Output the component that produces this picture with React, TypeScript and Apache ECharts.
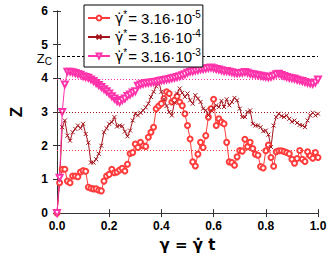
import React, { useEffect, useRef } from "react";
import * as echarts from "echarts";

// Z(γ) for three shear rates, sampled every Δγ = 0.01
const zRate5 = [0, 0.9, 1.3, 1.3, 0.95, 0.9, 1.1, 1.1, 1.08, 1.22, 1.26, 1.24, 0.77, 0.74, 0.72, 0.72, 0.68, 0.66, 0.95, 1.1,
  1.15, 1.3, 1.2, 1.22, 1.28, 1.33, 1.25, 1.45, 1.77, 1.8, 2.05, 1.95, 2.1, 2.0, 1.98, 2.25, 2.4, 2.55, 3.1, 3.18,
  3.25, 3.4, 3.6, 3.55, 3.3, 3.35, 3.47, 3.3, 3.19, 2.95, 2.6, 2.2, 1.52, 1.4, 1.75, 2.1, 1.95, 2.3, 2.85, 3.1,
  3.38, 2.6, 2.8, 2.7, 2.65, 2.1, 1.52, 1.5, 1.42, 1.67, 1.86, 1.84, 2.19, 1.97, 2.1, 1.92, 1.75, 1.72, 1.38, 1.34,
  1.85, 2.02, 1.65, 1.39, 1.82, 1.85, 1.85, 1.83, 1.8, 1.76, 1.6, 1.48, 1.62, 1.86, 1.6, 1.53, 1.82, 1.7, 1.63, 1.8, 1.65];
const zRate4 = [0, 1.0, 2.55, 2.75, 2.3, 2.15, 2.4, 2.5, 2.6, 2.52, 2.65, 2.35, 2.09, 1.5, 1.5, 1.6, 1.76, 2.0, 2.4, 2.52,
  2.65, 2.7, 2.85, 2.57, 2.6, 2.58, 2.42, 2.28, 2.45, 2.75, 2.95, 2.9, 2.98, 3.05, 3.14, 3.25, 3.45, 3.6, 3.76, 3.9,
  3.6, 3.38, 3.18, 3.0, 2.9, 3.28, 3.55, 3.7, 3.57, 3.45, 3.55, 3.35, 3.25, 3.5, 3.4, 3.3, 3.1, 3.05, 2.9, 3.05,
  3.12, 3.2, 3.15, 3.33, 3.15, 3.38, 3.2, 3.3, 3.42, 3.35, 3.1, 2.85, 2.85, 3.0, 3.05, 2.65, 2.6, 2.6, 2.55, 2.43,
  2.45, 2.33, 1.96, 2.6, 2.85, 2.95, 2.88, 2.85, 2.9, 2.8, 2.71, 2.75, 2.68, 2.62, 2.6, 2.55, 2.75, 2.9, 2.98, 2.9, 2.95];
const zRate3 = [0, 1.05, 3.0, 3.82, 4.2, 4.2, 4.18, 4.16, 4.13, 4.11, 4.06, 4.04, 4.02, 3.97, 3.92, 3.86, 3.8, 3.74, 3.68, 3.62,
  3.55, 3.47, 3.4, 3.33, 3.3, 3.36, 3.4, 3.48, 3.52, 3.58, 3.62, 3.78, 3.82, 3.84, 3.86, 3.87, 3.88, 3.89, 3.9, 3.92,
  3.94, 3.95, 3.97, 3.98, 4.0, 4.02, 4.04, 4.06, 4.09, 4.12, 4.17, 4.2, 4.21, 4.23, 4.25, 4.27, 4.28, 4.29, 4.31, 4.32,
  4.3, 4.28, 4.26, 4.24, 4.22, 4.22, 4.2, 4.18, 4.16, 4.15, 4.16, 4.17, 4.19, 4.17, 4.14, 4.12, 4.11, 4.09, 4.08, 4.06,
  4.05, 4.03, 4.05, 4.08, 4.12, 4.14, 4.1, 4.07, 4.04, 4.02, 4.0, 3.99, 3.96, 3.94, 3.92, 3.89, 3.87, 3.85, 3.84, 3.88, 3.97];

const seriesNames = ["r5", "r4", "r3"];
const exponents = ["-5", "-4", "-3"];
const plateaus = [1.87, 3.0, 3.98];
const zCritical = 4.66;
const colors = ["#ff3c3c", "#a3141c", "#ff33aa"];
const xTicks = ["0.0", "0.2", "0.4", "0.6", "0.8", "1.0"];

const FONT = "'Liberation Sans', Arial, sans-serif";
const GFONT = "'DejaVu Sans', sans-serif";

function pairs(ys: number[]) {
  return ys.map((y, i) => [i / (ys.length - 1), y]);
}

export default function App() {
  const ref = useRef<HTMLDivElement>(null);
  useEffect(() => {
    if (!ref.current) return;
    const chart = echarts.init(ref.current, null, { renderer: "svg" });
    const datas = [zRate5, zRate4, zRate3];
    const symbols = ["emptyCircle", "path://M0,0L10,10M10,0L0,10", "emptyTriangle"];
    const series: any[] = datas.map((d, k) => ({
      name: seriesNames[k],
      type: "line",
      data: pairs(d),
      symbol: symbols[k],
      symbolSize: k === 1 ? 4 : k === 2 ? 6 : 5,
      symbolRotate: k === 2 ? 180 : 0,
      showAllSymbol: true,
      lineStyle: { color: colors[k], width: 1 },
      itemStyle: { color: colors[k], borderColor: colors[k], borderWidth: 1 },
      z: 2,
      zlevel: 0,
      markLine: {
        silent: true,
        symbol: "none",
        animation: false,
        label: { show: false },
        data: [
          { yAxis: plateaus[k], lineStyle: { color: colors[k], type: [1, 2], width: 1 } },
          ...(k === 0
            ? [{
                yAxis: zCritical,
                lineStyle: { color: "#000", type: [3, 2], width: 1 },
                label: {
                  show: true,
                  position: "start",
                  distance: 5,
                  formatter: "{z|Z}{c|C}",
                  rich: {
                    z: { fontSize: 13, fontFamily: FONT, color: "#000", padding: [5, 0, 0, 0] },
                    c: { fontSize: 10, fontFamily: FONT, color: "#000", padding: [11, 0, 0, 0] },
                  },
                },
              }]
            : []),
        ],
      },
    }));

    const axisLine = { show: true, lineStyle: { color: "#333", width: 1 } };
    const tick = { show: true, inside: true, length: 4, lineStyle: { color: "#333" } };
    chart.setOption({
      animation: false,
      grid: { left: 49, right: 14, top: 11, bottom: 36 },
      legend: {
        z: 20,
        left: 84,
        top: 5,
        orient: "vertical",
        itemWidth: 22,
        itemHeight: 6,
        itemGap: 2,
        padding: [4, 2, 3, 3],
        borderColor: "#000",
        borderWidth: 1,
        backgroundColor: "#fff",
        data: seriesNames,
        formatter: (name: string) => {
          const k = seriesNames.indexOf(name);
          return `{g|γ\u0307}{s|*}{n|= 3.16·10}{e|${exponents[k]}}`;
        },
        textStyle: {
          fontFamily: FONT,
          fontSize: 15,
          lineHeight: 16,
          color: "#000",
          rich: {
            g: { fontSize: 14, fontFamily: GFONT, color: "#000", lineHeight: 16 },
            s: { fontSize: 10, fontFamily: FONT, color: "#000", padding: [0, 1, 8, 0] },
            n: { fontSize: 15, fontFamily: FONT, color: "#000", lineHeight: 16 },
            e: { fontSize: 10, fontFamily: FONT, color: "#000", padding: [0, 0, 8, 0] },
          },
        },
      },
      xAxis: [
        {
          type: "value",
          min: 0,
          max: 1,
          interval: 0.2,
          name: "{a|γ = γ\u0307 t}",
          nameLocation: "middle",
          nameGap: 23,
          nameTextStyle: {
            fontFamily: GFONT,
            fontSize: 15,
            fontWeight: "bold",
            color: "#000",
            rich: { a: { fontFamily: GFONT, fontSize: 15, fontWeight: "bold", color: "#000" } },
          },
          axisLine,
          axisTick: tick,
          splitLine: { show: false },
          axisLabel: {
            margin: 7,
            fontFamily: FONT,
            fontSize: 12,
            fontWeight: "bold",
            color: "#000",
            formatter: (v: number) => xTicks[Math.round(v * 5)] ?? "",
          },
        },
        {
          type: "value",
          position: "top",
          min: 0,
          max: 1,
          interval: 0.2,
          axisLine,
          axisTick: tick,
          axisLabel: { show: false },
          splitLine: { show: false },
        },
      ],
      yAxis: [
        {
          type: "value",
          min: 0,
          max: 6,
          interval: 1,
          name: "Z",
          nameLocation: "middle",
          nameRotate: 90,
          nameGap: 32,
          nameTextStyle: { fontFamily: FONT, fontSize: 17, fontWeight: "bold", color: "#000" },
          axisLine,
          axisTick: tick,
          splitLine: { show: false },
          axisLabel: { margin: 9, fontFamily: FONT, fontSize: 12, fontWeight: "bold", color: "#000" },
        },
        {
          type: "value",
          position: "right",
          min: 0,
          max: 6,
          interval: 1,
          axisLine,
          axisTick: tick,
          axisLabel: { show: false },
          splitLine: { show: false },
        },
      ],
      series,
    });
    return () => chart.dispose();
  }, []);
  return <div ref={ref} style={{ width: 332, height: 257, position: "absolute", left: 0, top: 0 }} />;
}
